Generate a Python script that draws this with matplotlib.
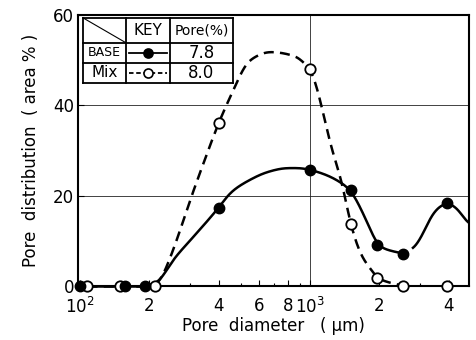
import numpy as np
import matplotlib
matplotlib.use('Agg')
import matplotlib.pyplot as plt
from matplotlib.ticker import FixedLocator, FixedFormatter, NullFormatter

# --- marker data (pore diameter um, area %) ---
base_d = [100, 157, 192, 400, 1000, 1500, 1960, 2540, 3950]
base_v = [0, 0, 0, 17.3, 25.7, 21.2, 9.0, 7.1, 18.4]
mix_d = [107, 149, 212, 400, 1000, 1500, 1960, 2530, 3950]
mix_v = [0, 0, 0, 36, 48, 13.7, 1.8, 0, 0]

# --- hand drawn curves ---
base_flat_d = [100, 157, 192]
base_curve_d = [192, 215, 254, 310, 400, 449, 548, 650, 794, 905, 1000, 1186, 1350, 1500,
                1683, 1830, 1960, 2540]
base_curve_v = [0, 0.6, 5.8, 10.8, 17.3, 20.6, 23.5, 25.2, 26.1, 26.1, 25.7, 24.5, 23.0, 21.2,
                16.5, 12.5, 9.0, 7.1]
base_tail_d = [2800, 3100, 3400, 3950, 4400, 4850]
base_tail_v = [7.8, 11.5, 16.0, 18.4, 17.0, 13.5]
mix_flat_d = [107, 149, 212]
mix_curve_d = [212, 223, 254, 301, 343, 400, 449, 548, 670, 877, 930, 1000, 1247, 1377, 1500,
               1683, 1850, 1960, 2530]
mix_curve_v = [0, 1.3, 8.0, 19.0, 27.0, 36, 41.8, 50.0, 51.8, 50.7, 49.6, 48, 30, 22.8, 13.7,
               6.4, 3.5, 1.8, 0]

key_rows = ['BASE', 'Mix']
key_pore = ['7.8', '8.0']

x_major = [100, 200, 400, 600, 800, 1000, 2000, 4000]
x_labels = ['$10^2$', '2', '4', '6', '8', '$10^3$', '2', '4']
x_minor = [300, 500, 700, 900, 3000]
y_ticks = [0, 20, 40, 60]


def pchip(x, y, xn):
    # monotone cubic through the traced points
    x = np.asarray(x, float)
    y = np.asarray(y, float)
    h = np.diff(x)
    d = np.diff(y) / h
    m = np.zeros_like(y)
    m[0], m[-1] = d[0], d[-1]
    for k in range(1, len(x) - 1):
        if d[k - 1] * d[k] > 0:
            w1 = 2 * h[k] + h[k - 1]
            w2 = h[k] + 2 * h[k - 1]
            m[k] = (w1 + w2) / (w1 / d[k - 1] + w2 / d[k])
    i = np.clip(np.searchsorted(x, xn) - 1, 0, len(h) - 1)
    t = (xn - x[i]) / h[i]
    h00 = 2 * t**3 - 3 * t**2 + 1
    h10 = t**3 - 2 * t**2 + t
    h01 = -2 * t**3 + 3 * t**2
    h11 = t**3 - t**2
    return h00 * y[i] + h10 * h[i] * m[i] + h01 * y[i + 1] + h11 * h[i] * m[i + 1]


def smooth(d, v, sigma=0.02):
    # pchip in log-x, then a light gaussian blur to iron out the tracing kinks
    lx = np.log10(d)
    step = 0.001
    xn = np.arange(lx[0], lx[-1] + step / 2, step)
    yn = pchip(lx, v, xn)
    k = int(3 * sigma / step)
    g = np.exp(-0.5 * (np.arange(-k, k + 1) * step / sigma)**2)
    g /= g.sum()
    yp = np.pad(yn, k, mode='edge')
    ys = np.convolve(yp, g, mode='valid')
    return 10**xn, ys


plt.rcParams['font.family'] = 'DejaVu Sans'
fig = plt.figure(figsize=(4.76, 3.4), dpi=100)
ax = fig.add_axes([0.164, 0.159, 0.821, 0.797])

ax.set_xscale('log')
ax.set_xlim(98, 4900)
ax.set_ylim(0, 60)

# gridlines
for yv in [20, 40]:
    ax.axhline(yv, color='#222222', lw=0.6, zorder=1)
ax.axvline(1000, color='#222222', lw=0.6, zorder=1)

solid = dict(color='black', lw=1.8, zorder=3)
dashed = dict(color='black', lw=1.8, ls=(0, (4, 2.5)), zorder=3)

ax.plot(base_flat_d, [0] * len(base_flat_d), clip_on=False, **solid)
ax.plot(*smooth(base_curve_d, base_curve_v), **solid)
ax.plot(*smooth(base_tail_d, base_tail_v), **solid)
ax.plot(mix_flat_d, [0] * len(mix_flat_d), clip_on=False, **dashed)
ax.plot(*smooth(mix_curve_d, mix_curve_v, sigma=0.015), **dashed)

ax.plot(base_d, base_v, 'o', ms=7.5, mfc='black', mec='black', clip_on=False, zorder=5)
ax.plot(mix_d, mix_v, 'o', ms=7.5, mfc='white', mec='black', mew=1.3, clip_on=False, zorder=4)

for s in ax.spines.values():
    s.set_linewidth(1.5)

ax.xaxis.set_major_locator(FixedLocator(x_major))
ax.xaxis.set_major_formatter(FixedFormatter(x_labels))
ax.xaxis.set_minor_locator(FixedLocator(x_minor))
ax.xaxis.set_minor_formatter(NullFormatter())
ax.set_yticks(y_ticks)
ax.tick_params(direction='in', labelsize=12, length=4, width=0.8)
ax.tick_params(axis='x', pad=8)
ax.tick_params(axis='y', pad=3)
ax.tick_params(which='minor', direction='in', length=2.5, width=0.8)

ax.set_xlabel('Pore  diameter   ( μm)', fontsize=12, labelpad=0)
ax.set_ylabel('Pore  distribution  ( area % )', fontsize=12, labelpad=9)

# key table in the top left corner
tx = [0.013, 0.123, 0.235, 0.396]
ty = [0.989, 0.897, 0.823, 0.749]
tr = ax.transAxes
ax.add_patch(plt.Rectangle((tx[0], ty[-1]), tx[-1] - tx[0], ty[0] - ty[-1],
                           transform=tr, facecolor='white', edgecolor='none', zorder=5.5))
for xv in tx:
    ax.plot([xv, xv], [ty[0], ty[-1]], color='black', lw=1.3, transform=tr, zorder=6)
for yv in ty:
    ax.plot([tx[0], tx[-1]], [yv, yv], color='black', lw=1.3, transform=tr, zorder=6)
ax.plot([tx[0], tx[1]], [ty[0], ty[1]], color='black', lw=0.8, transform=tr, zorder=6)
ax.text((tx[1] + tx[2]) / 2, (ty[0] + ty[1]) / 2, 'KEY', transform=tr,
        ha='center', va='center', fontsize=11, zorder=7)
ax.text((tx[2] + tx[3]) / 2, (ty[0] + ty[1]) / 2, 'Pore(%)', transform=tr,
        ha='center', va='center', fontsize=10, zorder=7)
styles = [dict(ls='-', mfc='black'), dict(ls=(0, (2.5, 1.5)), mfc='white')]
for r, (name, pv, st) in enumerate(zip(key_rows, key_pore, styles)):
    yc = (ty[r + 1] + ty[r + 2]) / 2
    ax.text((tx[0] + tx[1]) / 2, yc, name, transform=tr, ha='center', va='center',
            fontsize=9 if r == 0 else 11, zorder=7)
    ax.text((tx[2] + tx[3]) / 2, yc, pv, transform=tr, ha='center', va='center',
            fontsize=12, zorder=7)
    ax.plot([tx[1] + 0.008, tx[2] - 0.008], [yc, yc], color='black', lw=1.3,
            ls=st['ls'], transform=tr, zorder=7)
    ax.plot([(tx[1] + tx[2]) / 2], [yc], 'o', ms=6.5, mfc=st['mfc'], mec='black',
            mew=1.2, transform=tr, zorder=8)

fig.savefig('out.png', dpi=100)
